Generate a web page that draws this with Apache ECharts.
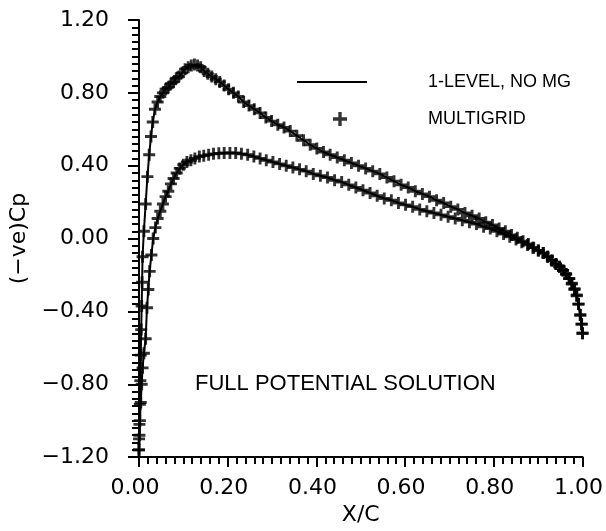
<!DOCTYPE html>
<html><head><meta charset="utf-8">
<script src="https://cdn.jsdelivr.net/npm/echarts@6/dist/echarts.min.js"></script>
<style>html,body{margin:0;padding:0;background:#fff}#c{width:606px;height:531px}</style>
</head><body><div id="c"></div>
<script>
// Upper surface, leading edge -> trailing edge
const upperX = [0.000,0.000,0.001,0.002,0.003,0.004,0.005,0.006,0.007,0.008,0.011,0.015,0.019,0.023,0.027,0.031,0.036,0.042,0.048,0.054,0.060,0.066,0.072,0.078,0.084,0.090,0.097,0.104,0.111,0.118,0.125,0.132,0.139,0.147,0.155,0.164,0.173,0.182,0.192,0.202,0.213,0.224,0.236,0.248,0.260,0.273,0.286,0.299,0.313,0.327,0.341,0.356,0.371,0.386,0.401,0.416,0.431,0.447,0.463,0.479,0.495,0.511,0.527,0.543,0.559,0.575,0.591,0.607,0.623,0.639,0.655,0.671,0.687,0.703,0.719,0.735,0.751,0.767,0.782,0.797,0.812,0.826,0.840,0.853,0.866,0.878,0.890,0.901,0.912,0.922,0.931,0.940,0.948,0.956,0.963,0.970,0.976,0.982,0.987,0.991,0.995,0.998,1.000];
const upperY = [-1.16,-1.10,-1.02,-0.91,-0.78,-0.64,-0.50,-0.37,-0.24,-0.10,0.04,0.19,0.34,0.46,0.56,0.64,0.71,0.75,0.78,0.80,0.82,0.83,0.85,0.86,0.88,0.89,0.91,0.93,0.94,0.95,0.955,0.95,0.94,0.92,0.905,0.89,0.875,0.86,0.84,0.82,0.80,0.78,0.75,0.73,0.71,0.69,0.665,0.645,0.625,0.61,0.59,0.565,0.54,0.515,0.495,0.475,0.46,0.445,0.43,0.415,0.40,0.385,0.37,0.355,0.335,0.315,0.295,0.28,0.26,0.245,0.23,0.21,0.195,0.175,0.16,0.14,0.125,0.11,0.09,0.075,0.055,0.04,0.02,0.005,-0.015,-0.03,-0.05,-0.065,-0.08,-0.10,-0.12,-0.14,-0.155,-0.175,-0.195,-0.22,-0.245,-0.275,-0.31,-0.36,-0.42,-0.47,-0.52];
// Lower surface, leading edge -> trailing edge
const lowerX = [0.000,0.001,0.002,0.004,0.006,0.008,0.011,0.015,0.018,0.021,0.024,0.028,0.032,0.037,0.042,0.048,0.054,0.060,0.066,0.072,0.078,0.085,0.092,0.100,0.108,0.117,0.126,0.136,0.146,0.157,0.168,0.180,0.192,0.205,0.218,0.231,0.245,0.259,0.273,0.287,0.302,0.317,0.332,0.347,0.362,0.377,0.393,0.409,0.425,0.441,0.457,0.473,0.489,0.505,0.521,0.537,0.553,0.569,0.585,0.601,0.617,0.633,0.649,0.665,0.681,0.697,0.713,0.729,0.745,0.761,0.777,0.792,0.807,0.822,0.836,0.850,0.863,0.876,0.888,0.900,0.911,0.921,0.931,0.940,0.948,0.956,0.963,0.970,0.976,0.982,0.987,0.991,0.995,0.998,1.000];
const lowerY = [-1.16,-1.08,-1.00,-0.90,-0.80,-0.71,-0.63,-0.55,-0.38,-0.28,-0.18,-0.09,0.00,0.06,0.11,0.15,0.19,0.23,0.26,0.30,0.33,0.36,0.385,0.405,0.42,0.43,0.44,0.45,0.455,0.46,0.465,0.468,0.47,0.47,0.47,0.465,0.46,0.45,0.44,0.43,0.42,0.41,0.40,0.39,0.38,0.37,0.355,0.345,0.335,0.32,0.31,0.295,0.28,0.265,0.25,0.235,0.22,0.21,0.195,0.185,0.175,0.16,0.15,0.14,0.13,0.12,0.11,0.10,0.09,0.08,0.065,0.055,0.04,0.025,0.01,-0.005,-0.02,-0.035,-0.05,-0.065,-0.08,-0.10,-0.12,-0.14,-0.155,-0.175,-0.195,-0.22,-0.25,-0.28,-0.315,-0.36,-0.42,-0.47,-0.52];

const xTickLabels = ['0.00','0.20','0.40','0.60','0.80','1.00'];
const yTickLabels = ['\u22121.20','\u22120.80','\u22120.40','0.00','0.40','0.80','1.20'];

const zip = (xs, ys) => xs.map((x, i) => [x, ys[i]]);
const PLUS = 'path://M3.8,0H6.2V3.8H10V6.2H6.2V10H3.8V6.2H0V3.8H3.8Z';
const LINE_NAME = '1-LEVEL, NO MG';
const MG_NAME = 'MULTIGRID';
const tickStyle = {color:'#000', width:2};
const labelFont = {color:'#000', fontFamily:'DejaVu Sans', fontSize:22};

const chart = echarts.init(document.getElementById('c'));
chart.setOption({
  animation:false,
  backgroundColor:'#fff',
  grid:{left:139, right:21, top:20, bottom:70},
  xAxis:{
    type:'value', min:0, max:1, interval:0.2,
    axisLine:{onZero:false, lineStyle:tickStyle},
    axisTick:{length:10, lineStyle:tickStyle},
    minorTick:{show:true, splitNumber:10, length:7, lineStyle:tickStyle},
    splitLine:{show:false},
    axisLabel:Object.assign({margin:20, padding:[0,8,0,0], formatter:(v,i)=>xTickLabels[i]}, labelFont),
    name:'X/C', nameLocation:'middle', nameGap:42,
    nameTextStyle:{color:'#000', fontFamily:'DejaVu Sans', fontSize:22}
  },
  yAxis:{
    type:'value', min:-1.2, max:1.2, interval:0.4,
    axisLine:{onZero:false, lineStyle:tickStyle},
    axisTick:{length:11, lineStyle:tickStyle},
    minorTick:{show:true, splitNumber:10, length:7, lineStyle:tickStyle},
    splitLine:{show:false},
    axisLabel:Object.assign({margin:30, formatter:(v,i)=>yTickLabels[i]}, labelFont),
    name:'(\u2212ve)Cp', nameLocation:'middle', nameGap:107, nameRotate:90,
    nameTextStyle:{color:'#000', fontFamily:'DejaVu Sans', fontSize:22}
  },
  legend:[
    {data:[LINE_NAME], left:292, top:68, orient:'vertical', selectedMode:false,
     icon:'path://M0,0H70V2H0Z', itemWidth:70, itemHeight:2,
     formatter:n=>'{a|'+n+'}',
     textStyle:{color:'#000', fontFamily:'Liberation Sans', fontSize:18,
       rich:{a:{padding:[0,0,0,56], fontFamily:'Liberation Sans', fontSize:18, color:'#000'}}}},
    {data:[MG_NAME], left:328, top:105, orient:'vertical', selectedMode:false,
     icon:PLUS, itemWidth:14, itemHeight:14,
     formatter:n=>'{a|'+n+'}',
     textStyle:{color:'#000', fontFamily:'Liberation Sans', fontSize:18,
       rich:{a:{padding:[0,0,0,76], fontFamily:'Liberation Sans', fontSize:18, color:'#000'}}}}
  ],
  graphic:[{
    type:'text', left:195, top:373,
    style:{text:'FULL POTENTIAL SOLUTION', fill:'#000', font:'22px "Liberation Sans"'}
  }],
  series:[
    {name:LINE_NAME, type:'line', data:zip(upperX, upperY), showSymbol:false, symbol:'none',
     lineStyle:{color:'#000', width:2}, itemStyle:{color:'#000'}, z:2},
    {name:LINE_NAME, type:'line', data:zip(lowerX, lowerY), showSymbol:false, symbol:'none',
     lineStyle:{color:'#000', width:2}, itemStyle:{color:'#000'}, z:2},
    {name:MG_NAME, type:'scatter', data:zip(upperX, upperY), symbol:PLUS, symbolSize:12,
     itemStyle:{color:'#000'}, z:3},
    {name:MG_NAME, type:'scatter', data:zip(lowerX, lowerY), symbol:PLUS, symbolSize:12,
     itemStyle:{color:'#000'}, z:3}
  ]
});
</script></body></html>
